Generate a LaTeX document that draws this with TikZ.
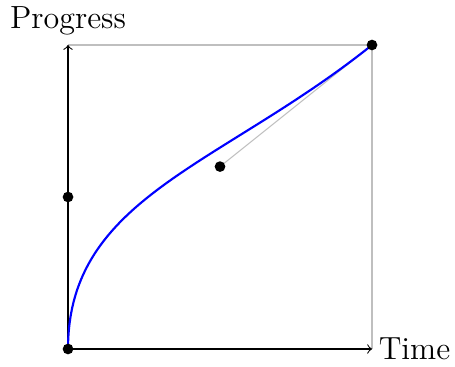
\documentclass[tikz,border=0pt]{standalone}
\begin{document}
\begin{tikzpicture}[x=4cm,y=4cm,
  dot/.style={circle,fill=black,inner sep=0pt,minimum size=4pt},
  lbl/.style={font=\large}]
\useasboundingbox (-0.895cm,-0.224cm) rectangle (5.092cm,4.592cm);
\coordinate (O) at (0,0);
\coordinate (X) at (1,0);
\coordinate (Y) at (0,1);
\coordinate (P1) at (0,0.5);
\coordinate (P2) at (0.5,0.6);
\coordinate (P3) at (1,1);
\draw[gray!50] (Y) -- (P3) -- (X);
\draw[gray!50] (P2) -- (P3);
\draw[->] (O) -- (X) node[right,lbl,xshift=-1pt] (tl) {Time};
\draw[->] (O) -- (Y) node[above,lbl] (pl) {Progress};
\draw[blue,thick] (O) .. controls (P1) and (P2) .. (P3);
\node[dot] (d0) at (O) {};
\node[dot] (d1) at (P1) {};
\node[dot] (d2) at (P2) {};
\node[dot] (d3) at (P3) {};
\end{tikzpicture}
\end{document}
